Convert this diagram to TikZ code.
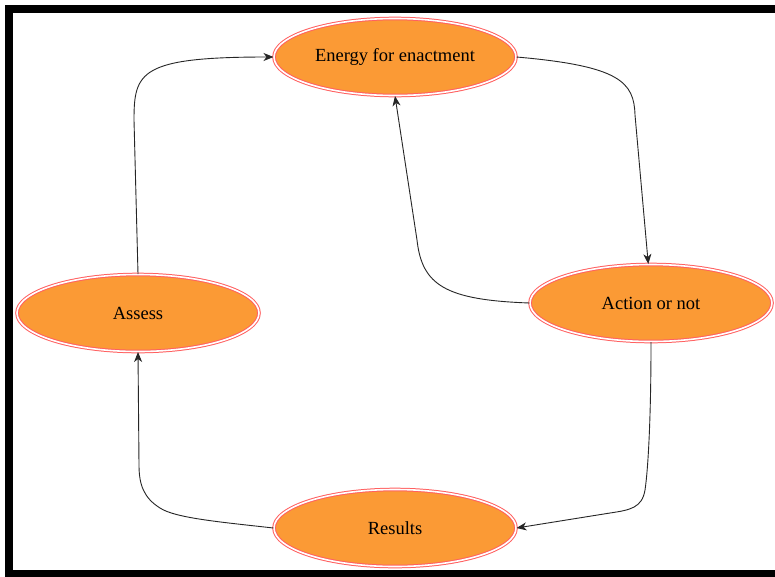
\documentclass[tikz,border=0pt]{standalone}
\usepackage{fontspec}
\setmainfont{Liberation Serif}
\usetikzlibrary{shapes.geometric,arrows.meta}
\definecolor{nodefill}{HTML}{FB9A35}
\definecolor{nodeline}{HTML}{FF6060}
\tikzset{
  stage/.style={ellipse, fill=nodefill, draw=nodeline, line width=1pt,
    double=white, double distance=1.6pt, inner sep=0pt,
    minimum width=242pt, minimum height=77pt,
    font=\fontsize{18.5}{22}\selectfont, text=black},
  link/.style={draw=black!85, line width=0.9pt,
    -{Stealth[length=10pt,width=8pt,inset=3pt]}}
}
\begin{document}
\begin{tikzpicture}[x=1pt,y=-1pt]
\useasboundingbox (0,0) rectangle (775,576);
\clip (0,0) rectangle (775,576);
\fill[white] (0,0) rectangle (775,576);
\draw[black, line width=8pt] (9,9) rectangle (800,574);

\node[stage] (E) at (395,57) {Energy for enactment};
\node[stage] (S) at (138,313) {Assess};
\node[stage] (A) at (651,303) {Action or not};
\node[stage] (R) at (395,528) {Results};

\draw[link] (S.north) -- (134,120) .. controls (134,72) and (140,57) .. (E.west);
\draw[link] (E.east) .. controls (620,66) and (634,82) .. (635,115) -- (A.94);
\draw[link] (A.west) .. controls (445,300) and (422,285) .. (417,240) -- (E.south);
\draw[link] (A.south) .. controls (651,420) and (648,470) .. (645,490)
  .. controls (642,508) and (630,510) .. (610,513) -- (R.east);
\draw[link] (R.west) .. controls (220,522) and (175,518) .. (160,508)
  .. controls (144,498) and (139,485) .. (139,465) -- (S.south);
\end{tikzpicture}
\end{document}
